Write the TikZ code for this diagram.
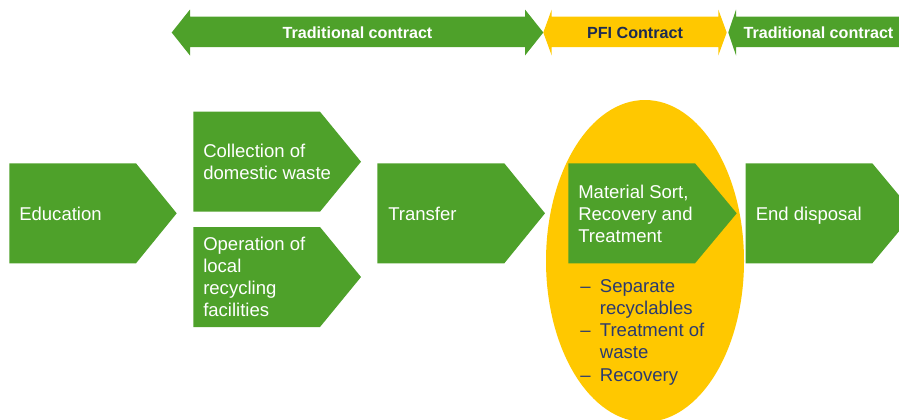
\documentclass[tikz,border=0pt]{standalone}
\usepackage{fontspec}
\setmainfont{Liberation Sans}
\definecolor{wgreen}{HTML}{4EA12A}
\definecolor{pfiyellow}{HTML}{FFC800}
\definecolor{navytext}{HTML}{1C2B52}
\definecolor{listtext}{HTML}{2B3A6F}

\begin{document}
\begin{tikzpicture}[x=0.75pt,y=-0.75pt,
  stage/.style={fill=wgreen},
  stagetext/.style={text=white,anchor=west,align=left,inner sep=0pt,font=\fontsize{13.9}{16.6}\selectfont},
  bartext/.style={font=\fontsize{12.1}{14}\selectfont\bfseries,inner sep=0pt}]
\useasboundingbox (0,0) rectangle (899,419);
\clip (0,0) rectangle (899,419);
% contract bars
\fill[wgreen] (171.7,32.5) -- (190,9.5) -- (190,16.7) -- (525,16.7) -- (525,9.5) -- (543.3,32.5) -- (525,55.5) -- (525,47) -- (190,47) -- (190,55.5) -- cycle;
\fill[pfiyellow] (543.3,32.5) -- (551.7,9.5) -- (551.7,16.7) -- (718.3,16.7) -- (718.3,9.5) -- (726.7,32.5) -- (718.3,55.5) -- (718.3,47) -- (551.7,47) -- (551.7,55.5) -- cycle;
\fill[wgreen] (728.3,32.5) -- (736,9.5) -- (736,16.7) -- (905,16.7) -- (905,47) -- (736,47) -- (736,55.5) -- cycle;
\node[bartext,text=white] (tc1) at (357.5,32.5) {Traditional contract};
\node[bartext,text=navytext] (pfi) at (635,32.5) {PFI Contract};
\node[bartext,text=white] (tc2) at (818.5,32.5) {Traditional contract};
% PFI ellipse
\fill[pfiyellow] (645,261) ellipse [x radius=99, y radius=161];
% stages
\fill[stage] (9.3,163.3) -- (136,163.3) -- (176.7,213.3) -- (136,263.3) -- (9.3,263.3) -- cycle;
\fill[stage] (193.3,111.7) -- (320,111.7) -- (361,161.7) -- (320,211.7) -- (193.3,211.7) -- cycle;
\fill[stage] (193.3,227) -- (320,227) -- (361,277) -- (320,327) -- (193.3,327) -- cycle;
\fill[stage] (377.3,163.3) -- (504.3,163.3) -- (545,213.3) -- (504.3,263.3) -- (377.3,263.3) -- cycle;
\fill[stage] (568.3,163.3) -- (695,163.3) -- (736.7,213.3) -- (695,263.3) -- (568.3,263.3) -- cycle;
\fill[stage] (745.7,163.3) -- (872.3,163.3) -- (914,213.3) -- (872.3,263.3) -- (745.7,263.3) -- cycle;
\node[stagetext] (edu) at (19,214) {Education};
\node[stagetext] (coll) at (203,162) {Collection of\\domestic waste};
\node[stagetext] (oper) at (203,277) {Operation of\\local\\recycling\\facilities};
\node[stagetext] (trans) at (388,214) {Transfer};
\node[stagetext] (msrt) at (578,214) {Material Sort,\\Recovery and\\Treatment};
\node[stagetext] (endd) at (755.5,215.5) {End disposal};
% activities in the PFI
\node[stagetext,text=listtext] (lst) at (580,332.3) {\begin{tabular}{@{}l@{\hspace{7pt}}l@{}}
– & Separate\\
  & recyclables\\
– & Treatment of\\
  & waste\\
– & Recovery
\end{tabular}};
\end{tikzpicture}
\end{document}
